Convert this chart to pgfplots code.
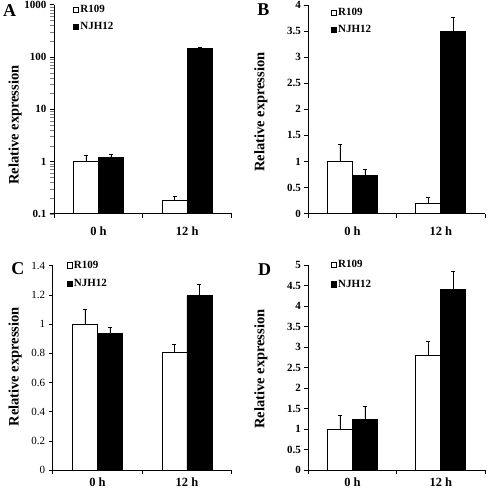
\documentclass[border=0pt]{standalone}
\usepackage{pgfplots}
\pgfplotsset{compat=1.18}
\usepackage{fontspec}
\setmainfont{Liberation Serif}
\begin{document}
\begin{tikzpicture}
\pgfplotsset{
  mybar/.style={
    scale only axis,
    ybar=0pt, bar width=25pt,
    xmin=-0.5, xmax=1.5,
    xtick={0,1}, xticklabels={0 h,12 h},
    minor xtick={-0.5,0.5,1.5},
    axis x line*=bottom, axis y line*=left,
    axis line style={line width=0.8pt, black},
    tick align=outside, major tick length=4pt, minor tick length=4pt,
    major x tick style={draw=none},
    minor x tick style={black, line width=0.8pt},
    major y tick style={black, line width=0.8pt},
    /pgf/number format/assume math mode=true,
    x tick label style={font=\bfseries\fontsize{12.5}{13}\selectfont},
    y tick label style={font=\bfseries\fontsize{11}{12}\selectfont},
    ylabel={Relative expression},
    ylabel style={font=\bfseries\fontsize{14.5}{15}\selectfont, anchor=center},
    legend image code/.code={\draw[#1, line width=0.7pt] (0pt,-2.6pt) rectangle (5.2pt,2.6pt);},
    legend cell align=left,
    legend style={draw=none, fill=none, inner sep=0pt, anchor=north west,
      font=\bfseries\fontsize{11}{11}\selectfont,
      nodes={inner sep=1.2pt}, row sep=6pt},
    error bars/y dir=plus, error bars/y explicit,
    error bars/error bar style={black, line width=0.8pt},
    error bars/error mark options={black, line width=0.8pt, mark size=2pt, rotate=90},
  },
  wbar/.style={fill=white, draw=black, line width=0.8pt},
  kbar/.style={fill=black, draw=black, line width=0.8pt},
}
% Panel A
\begin{axis}[mybar, at={(54pt,-213.7pt)}, anchor=south west,
  width=177.7pt, height=209pt,
  ymode=log, log origin y=infty, ymin=0.1, ymax=1000,
  ytick={0.1,1,10,100,1000}, yticklabels={0.1,1,10,100,1000},
  ylabel style={at={(axis description cs:-0.219,0.424)}},
  x tick label style={yshift=-6pt},
  legend style={at={(axis description cs:0.107,1.005)}}]
\addplot[wbar] coordinates {(0,1.0) +- (0,0.3) (1,0.177) +- (0,0.035)};
\addplot[kbar] coordinates {(0,1.18) +- (0,0.2) (1,143) +- (0,11)};
\legend{R109,NJH12}
\end{axis}
% Panel B
\begin{axis}[mybar, at={(308.3pt,-213.7pt)}, anchor=south west,
  width=176.7pt, height=208.7pt,
  ymin=0, ymax=4, ytick={0,0.5,...,4},
  ylabel style={at={(axis description cs:-0.268,0.487)}},
  x tick label style={yshift=-6pt},
  legend style={at={(axis description cs:0.128,0.99)}}]
\addplot[wbar] coordinates {(0,1.0) +- (0,0.33) (1,0.19) +- (0,0.13)};
\addplot[kbar] coordinates {(0,0.73) +- (0,0.12) (1,3.5) +- (0,0.26)};
\legend{R109,NJH12}
\end{axis}
% Panel C
\begin{axis}[mybar, at={(52.7pt,-470.3pt)}, anchor=south west,
  width=179pt, height=204.6pt,
  ymin=0, ymax=1.4, ytick={0,0.2,...,1.4},
  y tick label style={font=\fontsize{11}{12}\selectfont},
  ylabel style={at={(axis description cs:-0.21,0.506)}},
  legend style={at={(axis description cs:0.078,1.03)}, row sep=7.5pt}]
\addplot[wbar] coordinates {(0,1.0) +- (0,0.10) (1,0.81) +- (0,0.05)};
\addplot[kbar] coordinates {(0,0.935) +- (0,0.04) (1,1.195) +- (0,0.075)};
\legend{R109,NJH12}
\end{axis}
% Panel D
\begin{axis}[mybar, at={(308.3pt,-470.3pt)}, anchor=south west,
  width=176.7pt, height=205.3pt,
  ymin=0, ymax=5, ytick={0,0.5,...,5},
  ylabel style={at={(axis description cs:-0.268,0.493)}},
  legend style={at={(axis description cs:0.128,1.03)}, row sep=8.5pt}]
\addplot[wbar] coordinates {(0,1.0) +- (0,0.33) (1,2.79) +- (0,0.36)};
\addplot[kbar] coordinates {(0,1.23) +- (0,0.33) (1,4.40) +- (0,0.45)};
\legend{R109,NJH12}
\end{axis}
\begin{scope}[every node/.style={font=\bfseries\fontsize{18}{18}\selectfont, inner sep=0pt}]
\node at (9.5pt,-11pt) {A};
\node at (263.3pt,-10pt) {B};
\node at (17.8pt,-269pt) {C};
\node at (264.7pt,-270pt) {D};
\end{scope}
\pgfresetboundingbox
\path (0,0) rectangle (487pt,-495pt);
\end{tikzpicture}
\end{document}
